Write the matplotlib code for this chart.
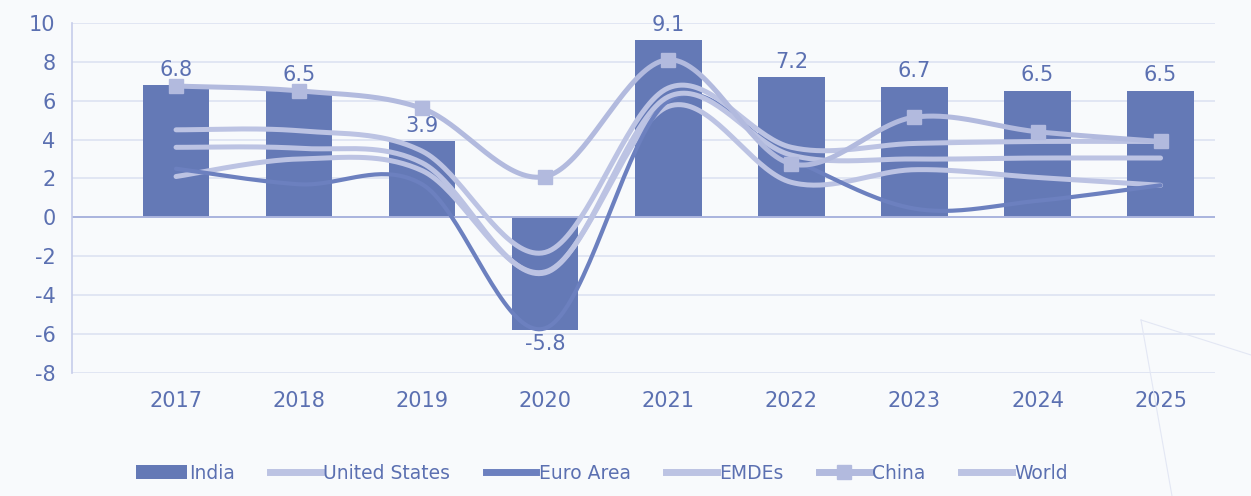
import numpy as np
import matplotlib.pyplot as plt
from matplotlib.patches import Patch
from matplotlib.lines import Line2D

plt.rcParams['axes.unicode_minus'] = False

# données (croissance du PIB, %)
annees = ["2017", "2018", "2019", "2020", "2021", "2022", "2023", "2024", "2025"]
inde = [6.8, 6.5, 3.9, -5.8, 9.1, 7.2, 6.7, 6.5, 6.5]
etats_unis = [2.1, 3.0, 2.4, -2.8, 5.7, 1.8, 2.45, 2.05, 1.65]
zone_euro = [2.5, 1.7, 1.7, -5.7, 6.0, 3.0, 0.45, 0.85, 1.65]
emdes = [4.5, 4.45, 3.4, -1.8, 6.65, 3.6, 3.8, 3.9, 3.9]
chine = [6.75, 6.5, 5.6, 2.1, 8.1, 2.75, 5.15, 4.4, 3.9]
monde = [3.6, 3.55, 2.8, -2.85, 6.2, 3.2, 3.0, 3.05, 3.05]

c_barre = "#6479b6"
c_fonce = "#6c80bf"
c_clair = "#bcc3e3"
c_chine = "#b2bade"
c_texte = "#5b70b1"
c_grille = "#dde2f2"
c_fond = "#f8fafc"


"""courbe lissée type Excel (Bezier / Catmull-Rom)"""
def lisser(x, y, n=40):
    x = np.asarray(x, dtype=float)
    y = np.asarray(y, dtype=float)
    xs, ys = [], []
    for i in range(len(x) - 1):
        i0 = max(i - 1, 0)
        i3 = min(i + 2, len(x) - 1)
        # points de contrôle
        cx1 = x[i] + (x[i + 1] - x[i0]) / 6
        cy1 = y[i] + (y[i + 1] - y[i0]) / 6
        cx2 = x[i + 1] - (x[i3] - x[i]) / 6
        cy2 = y[i + 1] - (y[i3] - y[i]) / 6
        t = np.linspace(0, 1, n)
        xs.append((1-t)**3*x[i] + 3*(1-t)**2*t*cx1 + 3*(1-t)*t**2*cx2 + t**3*x[i+1])
        ys.append((1-t)**3*y[i] + 3*(1-t)**2*t*cy1 + 3*(1-t)*t**2*cy2 + t**3*y[i+1])
    return np.concatenate(xs), np.concatenate(ys)


fig = plt.figure(figsize=(12.51, 4.96), dpi=100, facecolor=c_fond)
ax = fig.add_axes([0.0576, 0.248, 0.9134, 0.706], facecolor=c_fond)

x = np.arange(len(annees))

ax.bar(x, inde, width=0.54, color=c_barre, zorder=2)

# lignes lissées
for serie, couleur, lw in [(etats_unis, c_clair, 3.6),
                           (zone_euro, c_fonce, 3.0),
                           (emdes, c_clair, 3.6),
                           (monde, c_clair, 3.6)]:
    xs, ys = lisser(x, serie)
    ax.plot(xs, ys, color=couleur, lw=lw, solid_capstyle="round", zorder=3)

xs, ys = lisser(x, chine)
ax.plot(xs, ys, color=c_chine, lw=3.6, solid_capstyle="round", zorder=4)
ax.plot(x, chine, ls="none", marker="s", ms=10, color=c_chine, zorder=5)

# étiquettes des barres
for xi, v in zip(x, inde):
    if v >= 0:
        ax.annotate(f"{v:.1f}", (xi, v), xytext=(0, 4), textcoords="offset points",
                    ha="center", va="bottom", fontsize=15, color=c_texte)
    else:
        ax.annotate(f"{v:.1f}", (xi, v), xytext=(0, -3), textcoords="offset points",
                    ha="center", va="top", fontsize=15, color=c_texte)

ax.set_xlim(-0.845, 8.44)
ax.set_ylim(-8, 10)
ax.set_yticks(np.arange(-8, 11, 2))
ax.set_xticks(x)
ax.set_xticklabels(annees)
ax.tick_params(axis="both", length=0, labelsize=15, labelcolor=c_texte)
ax.tick_params(axis="y", pad=12)
ax.tick_params(axis="x", pad=13)
ax.grid(axis="y", color=c_grille, lw=1.2, zorder=0)
ax.axhline(0, color="#aab4de", lw=1.4, zorder=2.5)
for s in ["top", "right", "bottom"]:
    ax.spines[s].set_visible(False)
ax.spines["left"].set_color("#c6cdea")
ax.spines["left"].set_linewidth(1.2)

# légende
poignees = [
    Patch(facecolor=c_barre, edgecolor="none", label="India"),
    Line2D([], [], color=c_clair, lw=5, label="United States"),
    Line2D([], [], color=c_fonce, lw=5, label="Euro Area"),
    Line2D([], [], color=c_clair, lw=5, label="EMDEs"),
    Line2D([], [], color=c_chine, lw=5, marker="s", ms=10, label="China"),
    Line2D([], [], color=c_clair, lw=5, label="World"),
]
leg = fig.legend(handles=poignees, loc="center", bbox_to_anchor=(0.481, 0.046), ncol=6,
                 frameon=False, fontsize=13.5, handlelength=2.7, handletextpad=0.12,
                 columnspacing=1.9, handleheight=0.8)
for t in leg.get_texts():
    t.set_color(c_texte)

# motif décoratif en bas à droite
fig.add_artist(Line2D([1141/1251, 1251/1251], [1-320/496, 1-355/496],
                      color="#e3e7f4", lw=0.8))
fig.add_artist(Line2D([1141/1251, 1172/1251], [1-320/496, 0],
                      color="#e3e7f4", lw=0.8))

fig.savefig("out.png", dpi=100, facecolor=c_fond)
